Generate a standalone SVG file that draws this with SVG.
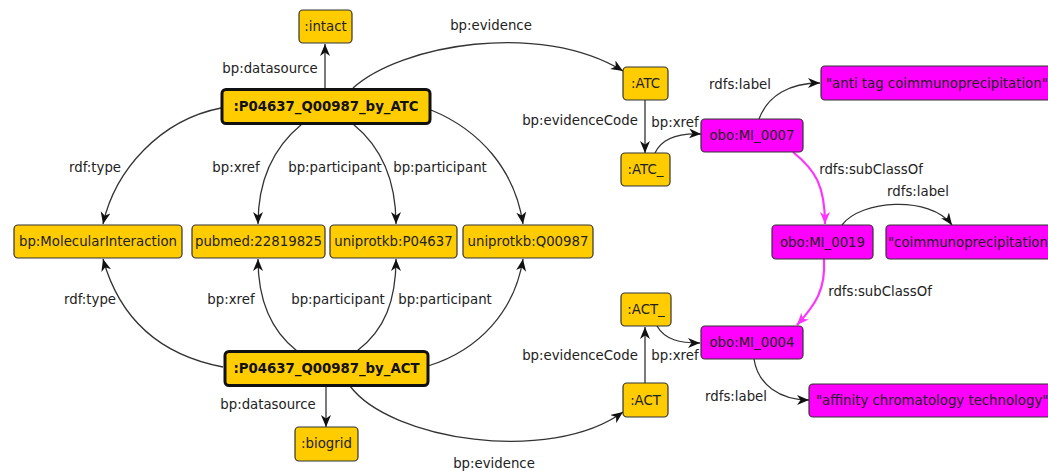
<svg xmlns="http://www.w3.org/2000/svg" width="1048" height="471" viewBox="0 0 1048 471">
<style>
text{font-family:"DejaVu Sans","Liberation Sans",sans-serif;font-size:13.3px;fill:#222}
.n rect{stroke:#333;stroke-width:1.2}
.y rect{fill:#ffcc00}
.m rect{fill:#ff00ff}
.b rect{stroke:#111;stroke-width:3}
.b text{font-weight:bold;fill:#111}
.n text{text-anchor:middle}
.e path{fill:none;stroke:#333;stroke-width:1.3;marker-end:url(#a)}
.e path.p{stroke:#ff33ff;stroke-width:2.2;marker-end:url(#am)}
.l text{text-anchor:middle}
</style>
<defs>
<marker id="a" markerWidth="13" markerHeight="11" refX="12" refY="5" orient="auto" markerUnits="userSpaceOnUse"><path d="M0,0 L12,5 L0,10 L3.5,5 z" fill="#111"/></marker>
<marker id="am" markerWidth="13" markerHeight="11" refX="12" refY="5" orient="auto" markerUnits="userSpaceOnUse"><path d="M0,0 L12,5 L0,10 L3.5,5 z" fill="#ff33ff"/></marker>
</defs>
<rect width="1048" height="471" fill="#fff"/>
<g id="connectors" class="e">
<path d="M325,89 L325,44"/>
<path d="M221,108 C160,120 115,170 103,224"/>
<path d="M302,124 C270,150 258,185 258,224"/>
<path d="M353,124 C385,150 396,185 396,224"/>
<path d="M431,110 C480,130 515,170 523,224"/>
<path d="M353,88 C400,45 540,20 623,71"/>
<path d="M645,100 L645,153"/>
<path d="M655,153 C662,138 680,133 701,134"/>
<path d="M759,119 C768,95 790,83 820,83"/>
<path class="p" d="M793,152 C815,170 825,185 825,224"/>
<path d="M842,225 C860,200 930,195 952,225"/>
<path class="p" d="M824,259 C826,290 815,305 797,325"/>
<path d="M754,359 C758,385 780,400 809,400"/>
<path d="M645,383 L645,327"/>
<path d="M657,326 C665,340 680,343 700,343"/>
<path d="M350,386 C390,440 550,465 623,412"/>
<path d="M326,386 L326,427"/>
<path d="M223,367 C160,355 120,320 103,259"/>
<path d="M297,351 C270,330 258,300 258,259"/>
<path d="M357,351 C385,330 396,300 396,259"/>
<path d="M428,366 C480,350 515,310 523,259"/>
</g>
<g id="edge-labels" class="l">
<text x="270" y="73">bp:datasource</text>
<text x="95" y="172">rdf:type</text>
<text x="236" y="172">bp:xref</text>
<text x="335" y="172">bp:participant</text>
<text x="440" y="172">bp:participant</text>
<text x="491" y="30">bp:evidence</text>
<text x="580" y="125">bp:evidenceCode</text>
<text x="675" y="127">bp:xref</text>
<text x="740" y="89">rdfs:label</text>
<text x="871" y="174">rdfs:subClassOf</text>
<text x="918" y="196">rdfs:label</text>
<text x="880" y="296">rdfs:subClassOf</text>
<text x="736" y="401">rdfs:label</text>
<text x="580" y="360">bp:evidenceCode</text>
<text x="675" y="360">bp:xref</text>
<text x="494" y="468">bp:evidence</text>
<text x="268" y="409">bp:datasource</text>
<text x="90" y="304">rdf:type</text>
<text x="231" y="304">bp:xref</text>
<text x="338" y="304">bp:participant</text>
<text x="445" y="304">bp:participant</text>
</g>
<g id="n-intact" class="n y"><rect x="299" y="10" width="53" height="33" rx="4"/><text x="325.5" y="31">:intact</text></g>
<g id="n-atc-int" class="n y b"><rect x="222" y="89.5" width="208" height="34" rx="4"/><text x="326" y="111">:P04637_Q00987_by_ATC</text></g>
<g id="n-molint" class="n y"><rect x="14" y="225" width="168" height="33" rx="4"/><text x="98" y="246">bp:MolecularInteraction</text></g>
<g id="n-pubmed" class="n y"><rect x="192" y="225" width="133" height="33" rx="4"/><text x="258.5" y="246">pubmed:22819825</text></g>
<g id="n-p04637" class="n y"><rect x="330" y="225" width="127" height="33" rx="4"/><text x="393.5" y="246">uniprotkb:P04637</text></g>
<g id="n-q00987" class="n y"><rect x="463" y="225" width="130" height="33" rx="4"/><text x="528" y="246">uniprotkb:Q00987</text></g>
<g id="n-act-int" class="n y b"><rect x="225" y="351.5" width="203" height="34" rx="4"/><text x="326.5" y="373">:P04637_Q00987_by_ACT</text></g>
<g id="n-biogrid" class="n y"><rect x="295" y="427" width="63" height="34" rx="4"/><text x="326.5" y="448">:biogrid</text></g>
<g id="n-atc" class="n y"><rect x="623" y="67" width="45" height="33" rx="4"/><text x="645.5" y="88">:ATC</text></g>
<g id="n-atc_" class="n y"><rect x="621" y="153" width="49" height="33" rx="4"/><text x="645.5" y="174">:ATC_</text></g>
<g id="n-act_" class="n y"><rect x="621" y="293" width="50" height="33" rx="4"/><text x="646" y="314">:ACT_</text></g>
<g id="n-act" class="n y"><rect x="623" y="383" width="45" height="34" rx="4"/><text x="645.5" y="405">:ACT</text></g>
<g id="n-mi0007" class="n m"><rect x="701" y="119" width="102" height="33" rx="4"/><text x="752" y="140">obo:MI_0007</text></g>
<g id="n-mi0019" class="n m"><rect x="772" y="225" width="101" height="34" rx="4"/><text x="822.5" y="247">obo:MI_0019</text></g>
<g id="n-mi0004" class="n m"><rect x="701" y="326" width="102" height="33" rx="4"/><text x="752" y="347">obo:MI_0004</text></g>
<g id="n-lbl0007" class="n m"><rect x="821" y="66" width="260" height="34" rx="4"/><text x="826" y="88" style="text-anchor:start">"anti tag coimmunoprecipitation"</text></g>
<g id="n-lbl0019" class="n m"><rect x="886" y="225" width="200" height="34" rx="4"/><text x="888" y="247" style="text-anchor:start">"coimmunoprecipitation"</text></g>
<g id="n-lbl0004" class="n m"><rect x="809" y="384" width="260" height="33" rx="4"/><text x="816" y="405" style="text-anchor:start">"affinity chromatology technology"</text></g>
</svg>
